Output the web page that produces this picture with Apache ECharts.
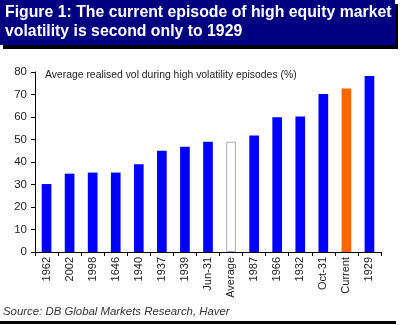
<!DOCTYPE html>
<html><head><meta charset="utf-8">
<script src="https://cdn.jsdelivr.net/npm/echarts@6/dist/echarts.min.js"></script>
<style>html,body{margin:0;padding:0;background:#fff}#c{width:400px;height:325px}</style>
</head><body><div id="c"></div>
<script>
const categories = ['1962','2002','1998','1646','1940','1937','1939','Jun-31','Average','1987','1966','1932','Oct-31','Current','1929'];
const values = [30.2, 34.8, 35.3, 35.3, 39.0, 45.0, 46.8, 49.0, 49.0, 51.8, 59.9, 60.2, 70.2, 72.7, 78.2];
const yTicks = [0,10,20,30,40,50,60,70,80];
const titleLines = ['Figure 1: The current episode of high equity market', 'volatility is second only to 1929'];
const subtitle = 'Average realised vol during high volatility episodes (%)';
const source = 'Source: DB Global Markets Research, Haver';

const chart = echarts.init(document.getElementById('c'), null, {renderer:'canvas'});
const data = values.map((v,i)=>{
  const c = categories[i];
  if (c==='Average') return {value:v, itemStyle:{color:'#ffffff', borderColor:'#a8a8d0', borderWidth:1}};
  if (c==='Current') return {value:v, itemStyle:{color:'#ff6600'}};
  return {value:v, itemStyle:{color:'#0000ff'}};
});
chart.setOption({
  animation:false,
  grid:{left:35, right:19, top:72, bottom:73},
  xAxis:{type:'category', data:categories,
    axisLine:{lineStyle:{color:'#000', width:1}},
    axisTick:{show:true, length:4, lineStyle:{color:'#000'}},
    axisLabel:{rotate:90, fontSize:11, color:'#222', fontFamily:'Liberation Sans', margin:5, interval:0}},
  yAxis:{type:'value', min:yTicks[0], max:yTicks[yTicks.length-1], interval:10,
    splitLine:{show:false},
    axisLine:{show:true, lineStyle:{color:'#000', width:1}},
    axisTick:{show:true, length:4, lineStyle:{color:'#000'}},
    axisLabel:{fontSize:11.5, color:'#222', fontFamily:'Liberation Sans', margin:8}},
  series:[{type:'bar', data:data, barWidth:'42%'}],
  graphic:[
    {type:'rect', shape:{x:3, y:4, width:395, height:45}, style:{fill:'#000'}, z:1},
    {type:'rect', shape:{x:0, y:0, width:395, height:45}, style:{fill:'#000080'}, z:2},
    {type:'text', x:5, y:4, scaleX:0.93, z:3, style:{text:titleLines[0], fill:'#fff', font:'bold 17px "Liberation Sans"'}},
    {type:'text', x:5, y:23, scaleX:0.93, z:3, style:{text:titleLines[1], fill:'#fff', font:'bold 17px "Liberation Sans"'}},
    {type:'text', x:45, y:70, z:3, style:{text:subtitle, fill:'#222', font:'10.4px "Liberation Sans"'}},
    {type:'text', x:3, y:306, z:3, style:{text:source, fill:'#333', font:'italic 11.4px "Liberation Sans"'}},
    {type:'rect', shape:{x:0, y:321, width:396, height:3}, style:{fill:'#000'}, z:3}
  ]
});
</script></body></html>
